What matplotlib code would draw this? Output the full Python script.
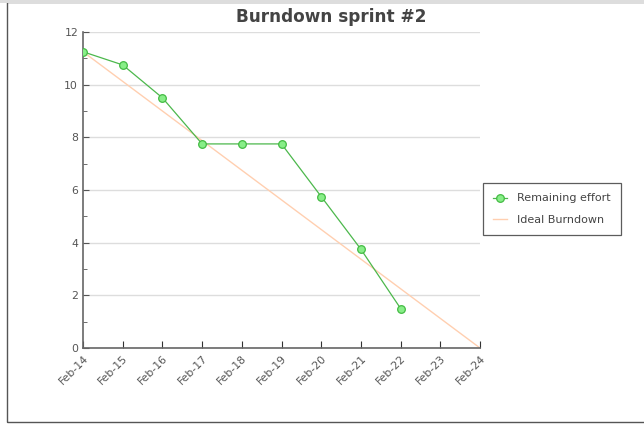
import matplotlib
matplotlib.use('Agg')
import matplotlib.pyplot as plt
from matplotlib.patches import Rectangle

days = ['Feb-14', 'Feb-15', 'Feb-16', 'Feb-17', 'Feb-18', 'Feb-19',
        'Feb-20', 'Feb-21', 'Feb-22', 'Feb-23', 'Feb-24']
remaining = [11.25, 10.75, 9.5, 7.75, 7.75, 7.75, 5.75, 3.75, 1.5]
ideal_start = 11.25
ideal_end = 0

fig = plt.figure(figsize=(6.44, 4.26), dpi=100)
# outer frame of the chart panel
fig.patches.append(Rectangle((7/644, 4/426), 2, 420/426, transform=fig.transFigure,
                             fill=False, edgecolor='#555555', lw=1.0))
fig.patches.append(Rectangle((0, 423/426), 1, 0.01, transform=fig.transFigure,
                             facecolor='#dddddd', edgecolor='none'))

ax = fig.add_axes([83/644, 1-348/426, 397/644, 316/426])

x = list(range(len(days)))
ax.plot([x[0], x[-1]], [ideal_start, ideal_end], color='#ffcfb0', lw=1.0,
        label='Ideal Burndown', zorder=2)
ax.plot(x[:len(remaining)], remaining, color='#4cb84c', lw=0.9, marker='o', ms=5.5,
        markerfacecolor='#88ee88', markeredgecolor='#44bb44', markeredgewidth=0.9,
        label='Remaining effort', zorder=3)

ax.set_xlim(0, 10)
ax.set_ylim(0, 12)
ax.set_xticks(x)
ax.set_xticklabels(days, rotation=45, ha='right', rotation_mode='anchor',
                   fontsize=7.8, color='#555555')
ax.set_yticks(range(0, 13, 2))
ax.set_yticks(range(1, 12, 2), minor=True)
ax.tick_params(axis='y', labelsize=7.8, labelcolor='#555555', color='#555555',
               direction='in', length=4)
ax.tick_params(axis='y', which='minor', direction='in', length=3, color='#555555')
ax.tick_params(axis='x', color='#333333', direction='in', length=5, pad=4)
ax.grid(axis='y', color='#dddddd', lw=1.0)
ax.set_axisbelow(True)
for s in ['top', 'right']:
    ax.spines[s].set_visible(False)
for s in ['left', 'bottom']:
    ax.spines[s].set_color('#666666')
    ax.spines[s].set_linewidth(1.2)

fig.text(331/644, 1-17/426, 'Burndown sprint #2', ha='center', va='center',
         fontsize=12.2, fontweight='bold', color='#444444')

h, l = ax.get_legend_handles_labels()
leg = ax.legend(h[::-1], l[::-1], loc='center left', bbox_to_anchor=(483/644, 1-209/426),
                bbox_transform=fig.transFigure, fontsize=8, frameon=True,
                fancybox=False, edgecolor='#333333', handlelength=1.3,
                borderpad=0.9, labelspacing=1.0, borderaxespad=0,
                handletextpad=0.9)
for t in leg.get_texts():
    t.set_color('#444444')
leg.get_frame().set_linewidth(0.9)

fig.savefig('out.png', dpi=100)
